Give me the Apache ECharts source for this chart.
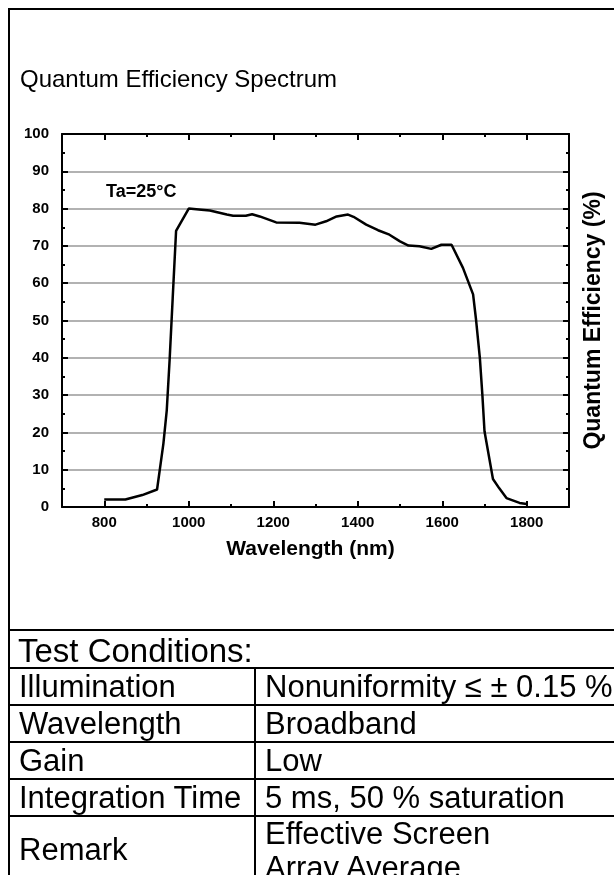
<!DOCTYPE html>
<html>
<head>
<meta charset="utf-8">
<title>Quantum Efficiency Spectrum</title>
<script src="https://cdn.jsdelivr.net/npm/echarts@6/dist/echarts.min.js"></script>
<style>
  html, body { margin: 0; padding: 0; background: #fff; }
  body { width: 614px; height: 875px; position: relative; overflow: hidden;
         font-family: "Liberation Sans", Arial, sans-serif; color: #000; }
  #chart { position: absolute; left: 0; top: 0; width: 614px; height: 875px; }
  .line { position: absolute; background: #000; }
  .txt { position: absolute; font-size: 33px; line-height: 1; white-space: nowrap; }
  table.cond { position: absolute; left: 8px; top: 667px; width: 760px;
               border-collapse: collapse; table-layout: fixed; }
  table.cond td { border: 2px solid #000; font-size: 31px; line-height: 35px; padding: 0 0 0 9px;
                  height: 35px; white-space: nowrap; vertical-align: middle; overflow: hidden; }
  table.cond td.tall { height: 80px; vertical-align: top; line-height: 34px; }
  table.cond td.tall.k { padding-top: 16px; }
</style>
</head>
<body>
<div id="chart"></div>

<div class="line" style="left:8px; top:8px; right:0; height:2px;"></div>
<div class="line" style="left:8px; top:8px; bottom:0; width:2px;"></div>
<div class="line" style="left:8px; top:629px; right:0; height:2px;"></div>
<div class="txt" id="condTitle" style="left:18px; top:634px;"></div>
<table class="cond" id="condTable">
  <colgroup><col style="width:246px"><col style="width:514px"></colgroup>
</table>

<script>
const el = (id) => document.getElementById(id);

// QE curve
const wavelengths = [800, 850, 890, 925, 940, 948, 955, 962, 970, 1000,
  1030, 1050, 1090, 1105, 1135, 1150, 1168, 1207, 1262, 1300,
  1325, 1350, 1377, 1390, 1420, 1448, 1475, 1500, 1520, 1546,
  1574, 1598, 1622, 1649, 1673, 1680, 1689, 1695, 1700, 1720,
  1735, 1752, 1783, 1800];
const efficiency = [2, 2, 3.2, 4.7, 17, 26, 40, 56, 74, 80,
  79.7, 79.5, 78.4, 78.1, 78.1, 78.5, 77.9, 76.3, 76.2, 75.7,
  76.6, 77.9, 78.4, 77.8, 75.7, 74.2, 73, 71.2, 70.1, 69.9,
  69.2, 70.3, 70.3, 64.1, 57, 50.2, 40, 30, 20.3, 7.5,
  5, 2.4, 1.1, 0.8];

const xMajorTicks = [800, 1000, 1200, 1400, 1600, 1800];
const xMinorTicks = [900, 1100, 1300, 1500, 1700];

const condLabels = ["Illumination", "Wavelength", "Gain", "Integration Time", "Remark"];
const condValues = ["Nonuniformity \u2264 \u00b1 0.15 %", "Broadband", "Low",
  "5 ms, 50 % saturation", "Effective Screen<br>Array Average"];

// table
el("condTitle").textContent = "Test Conditions:";
const tbl = el("condTable");
condLabels.forEach((k, i) => {
  const last = i === condLabels.length - 1;
  const tr = document.createElement("tr");
  const a = document.createElement("td");
  a.className = "k" + (last ? " tall" : "");
  a.textContent = k;
  const b = document.createElement("td");
  b.className = "v" + (last ? " tall" : "");
  b.innerHTML = condValues[i];
  tr.appendChild(a);
  tr.appendChild(b);
  tbl.appendChild(tr);
});

const FONT = "Liberation Sans";
const blackLine = { color: "#000", width: 2 };

function xAxisDef(pos, ticks, len, withLine) {
  return {
    type: "value", position: pos, min: 700, max: 1900,
    axisLine: { show: withLine, onZero: false, lineStyle: blackLine },
    axisTick: { inside: true, length: len, customValues: ticks, lineStyle: blackLine },
    axisLabel: withLine && pos === "bottom"
      ? { customValues: xMajorTicks, formatter: v => String(v), color: "#000",
          fontFamily: FONT, fontWeight: "bold", fontSize: 15, margin: 8 }
      : { show: false },
    splitLine: { show: false }
  };
}

const xAxes = [
  xAxisDef("bottom", xMajorTicks, 6, true),
  xAxisDef("bottom", xMinorTicks, 3, false),
  xAxisDef("top", xMajorTicks, 6, true),
  xAxisDef("top", xMinorTicks, 3, false)
];
xAxes[0].name = "Wavelength (nm)";
xAxes[0].nameLocation = "middle";
xAxes[0].nameGap = 32;
xAxes[0].nameTextStyle = { color: "#000", fontFamily: FONT, fontWeight: "bold", fontSize: 21,
  padding: [0, 10, 0, 0] };

const chart = echarts.init(el("chart"));
chart.setOption({
  animation: false,
  backgroundColor: "#fff",
  title: {
    text: "Quantum Efficiency Spectrum",
    left: 15, top: 63,
    textStyle: { color: "#000", fontFamily: FONT, fontWeight: "normal", fontSize: 24 }
  },
  grid: { left: 62, top: 134, width: 507, height: 373 },
  xAxis: xAxes,
  yAxis: [
    {
      type: "value", position: "left", min: 0, max: 100, interval: 10,
      axisLine: { show: true, lineStyle: blackLine },
      axisTick: { inside: true, length: 6, lineStyle: blackLine },
      minorTick: { show: true, splitNumber: 2, length: 3, lineStyle: blackLine },
      axisLabel: { color: "#000", fontFamily: FONT, fontWeight: "bold", fontSize: 15, margin: 13 },
      splitLine: { show: true, lineStyle: { color: "#999", width: 1.5 } }
    },
    {
      type: "value", position: "right", min: 0, max: 100, interval: 10,
      axisLine: { show: true, lineStyle: blackLine },
      axisTick: { inside: true, length: 6, lineStyle: blackLine },
      minorTick: { show: true, splitNumber: 2, length: 3, lineStyle: blackLine },
      axisLabel: { show: false },
      splitLine: { show: false },
      name: "Quantum Efficiency (%)",
      nameLocation: "middle",
      nameRotate: 90,
      nameGap: 13,
      nameTextStyle: { color: "#000", fontFamily: FONT, fontWeight: "bold", fontSize: 23, verticalAlign: "top" }
    }
  ],
  graphic: [{
    type: "text", left: 106, top: 183,
    style: { text: "Ta=25\u00b0C", fill: "#000", font: "bold 18px 'Liberation Sans'" }
  }],
  series: [{
    type: "line",
    xAxisIndex: 0, yAxisIndex: 0,
    data: wavelengths.map((w, i) => [w, efficiency[i]]),
    showSymbol: false,
    lineStyle: { color: "#000", width: 2.5 }
  }]
});
</script>
</body>
</html>
